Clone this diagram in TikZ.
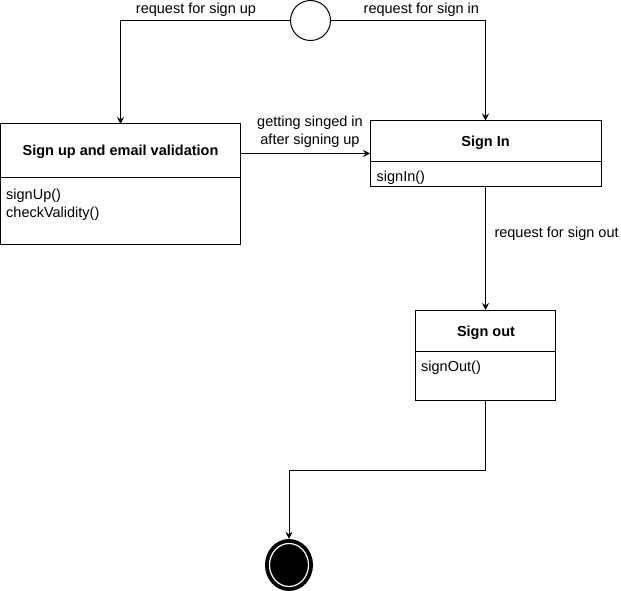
\documentclass[tikz,border=0pt]{standalone}
\usepackage{fontspec}
\setmainfont{Liberation Sans}
\usetikzlibrary{arrows.meta,shapes.geometric}
\begin{document}
\begin{tikzpicture}[x=1pt,y=-1pt,
  every node/.style={font=\fontsize{14.5}{17}\selectfont, inner sep=0pt},
  box/.style={draw, line width=1pt, rectangle, outer sep=0pt},
  conn/.style={draw, line width=1pt},
  arr/.style={conn, -{Stealth[length=7pt,width=7pt,inset=2.5pt]}},
  lbl/.style={anchor=base},
  lbll/.style={anchor=base west},
  title/.style={anchor=base, font=\fontsize{14.5}{17}\selectfont\bfseries}]
\useasboundingbox (0,0) rectangle (621,591);

% initial state
\node[draw, circle, line width=1pt, minimum size=40pt] (start) at (310.5,20.5) {};

% class boxes
\node[box, minimum width=240pt, minimum height=120pt] (su) at (120.5,184) {};
\node[box, minimum width=231pt, minimum height=66pt] (si) at (485.5,153.5) {};
\node[box, minimum width=140pt, minimum height=90pt] (so) at (485.5,355) {};

% compartment dividers
\coordinate (suL) at (su.west |- 0,177);
\coordinate (suR) at (su.east |- 0,177);
\draw[conn] (suL) -- (suR);
\coordinate (siL) at (si.west |- 0,161);
\coordinate (siR) at (si.east |- 0,161);
\draw[conn] (siL) -- (siR);
\coordinate (soL) at (so.west |- 0,351.5);
\coordinate (soR) at (so.east |- 0,351.5);
\draw[conn] (soL) -- (soR);

% box contents
\node[title] (suT) at (120.5,156) {Sign up and email validation};
\node[lbll] (suM1) at (6,199.3) {signUp()};
\node[lbll] (suM2) at (6,217.3) {checkValidity()};
\node[title] (siT) at (485.5,146.7) {Sign In};
\node[lbll] (siM1) at (376.5,181) {signIn()};
\node[title] (soT) at (486,336.7) {Sign out};
\node[lbll] (soM1) at (421,371.7) {signOut()};

% final state
\node[ellipse, fill=black, minimum width=48pt, minimum height=52pt] (fin) at (289,565) {};
\draw[white, line width=1.2pt] (fin.center) ellipse [x radius=19.5pt, y radius=21.5pt];

% transitions
\draw[arr] (start.west) -| (su.north);
\draw[arr] (start.east) -| (si.north);
\draw[arr] (su.east |- si.west) -- (si.west);
\draw[arr] (si.south) -- (so.north);
\coordinate (turn) at (485.5,470);
\draw[arr] (so.south) -- (so.south |- turn) -| (fin.north);

% transition labels
\node[lbl] (l1) at (196,13.5) {request for sign up};
\node[lbll] (l2) at (363.5,13.5) {request for sign in};
\node[lbl] (l3) at (310,126.7) {getting singed in};
\node[lbl] (l4) at (310,144.3) {after signing up};
\node[lbll] (l5) at (494.3,237.3) {request for sign out};
\end{tikzpicture}
\end{document}
